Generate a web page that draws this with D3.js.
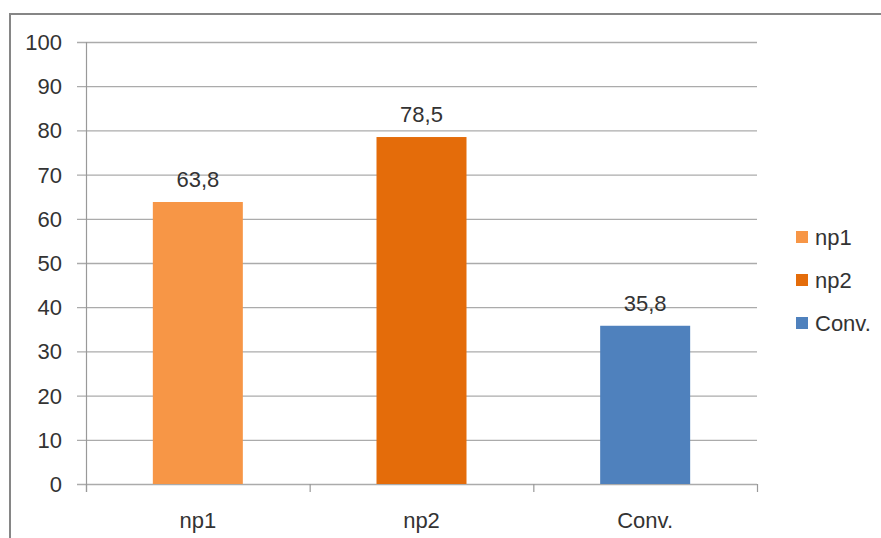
<!DOCTYPE html>
<html><head><meta charset="utf-8">
<script src="https://cdn.jsdelivr.net/npm/d3@7"></script>
<style>body{margin:0;background:#fff}svg{display:block}text{font-family:"Liberation Sans",Arial,sans-serif;fill:#333}</style>
</head><body><svg id="c" width="881" height="538"></svg>
<script>
const categories = ["np1", "np2", "Conv."];
const values = [63.8, 78.5, 35.8];
const valueLabels = ["63,8", "78,5", "35,8"];
const colors = ["#F79646", "#E46C0A", "#4F81BD"];
const yTicks = [0,10,20,30,40,50,60,70,80,90,100];

const svg = d3.select("#c");
svg.append("rect").attr("x",10).attr("y",14).attr("width",900).attr("height",600)
  .attr("fill","none").attr("stroke","#868686").attr("stroke-width",2);

const pL=86, pR=757, pT=42, pB=484;
const x = d3.scaleBand().domain(categories).range([pL,pR]).paddingInner(0).paddingOuter(0);
const y = d3.scaleLinear().domain([0,100]).range([pB,pT]);

svg.append("g").selectAll("line").data(yTicks).join("line")
  .attr("x1",77).attr("x2",pR).attr("y1",d=>y(d)+0.5).attr("y2",d=>y(d)+0.5)
  .attr("stroke","#ababab").attr("stroke-width",1.3);
svg.append("line").attr("x1",pL+0.5).attr("x2",pL+0.5).attr("y1",pT).attr("y2",pB+8)
  .attr("stroke","#999").attr("stroke-width",1.2);
const bounds = categories.map(c=>x(c)).concat([pR]);
svg.append("g").selectAll("line").data(bounds).join("line")
  .attr("x1",d=>d+0.5).attr("x2",d=>d+0.5).attr("y1",pB).attr("y2",pB+8)
  .attr("stroke","#999").attr("stroke-width",1.2);
svg.append("g").selectAll("text").data(yTicks).join("text")
  .attr("x",62).attr("y",d=>y(d)+8).attr("text-anchor","end")
  .style("font-size","22px").text(d=>d);

const bw = 90;
const g = svg.append("g");
g.selectAll("rect").data(values).join("rect")
  .attr("x",(d,i)=>x(categories[i])+x.bandwidth()/2-bw/2)
  .attr("width",bw)
  .attr("y",d=>y(d)).attr("height",d=>pB-y(d))
  .attr("fill",(d,i)=>colors[i]);
g.selectAll("text").data(values).join("text")
  .attr("x",(d,i)=>x(categories[i])+x.bandwidth()/2)
  .attr("y",d=>y(d)-15).attr("text-anchor","middle")
  .style("font-size","22px").text((d,i)=>valueLabels[i]);
svg.append("g").selectAll("text").data(categories).join("text")
  .attr("x",d=>x(d)+x.bandwidth()/2).attr("y",528).attr("text-anchor","middle")
  .style("font-size","22px").text(d=>d);

const lg = svg.append("g").selectAll("g").data(categories).join("g")
  .attr("transform",(d,i)=>`translate(796,${231+i*43})`);
lg.append("rect").attr("width",12).attr("height",12).attr("fill",(d,i)=>colors[i]);
lg.append("text").attr("x",19).attr("y",14).style("font-size","22px").text(d=>d);
</script></body></html>
